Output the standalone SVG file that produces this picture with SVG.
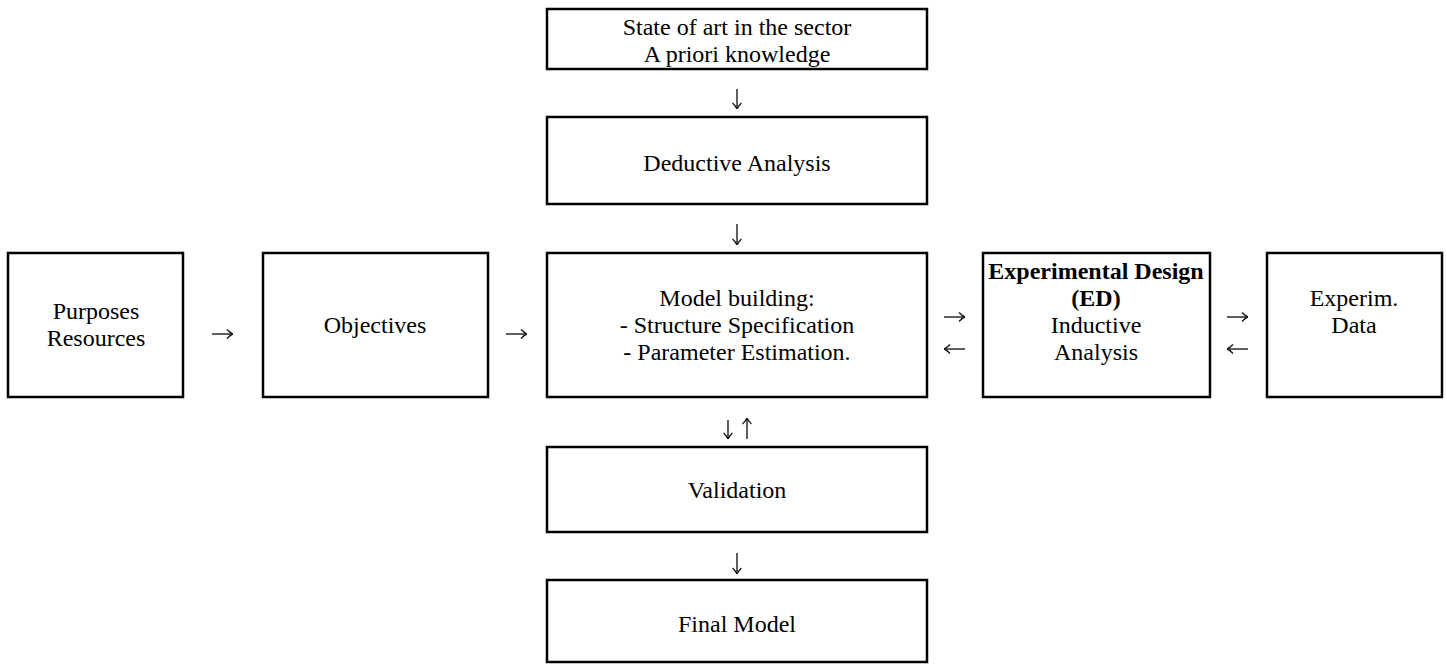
<svg xmlns="http://www.w3.org/2000/svg" width="1447" height="665" viewBox="0 0 1447 665">
<style>
.box{fill:#fff;stroke:#000;stroke-width:2.5}
text{font-family:"Liberation Serif","Times New Roman",serif;font-size:24px;fill:#000;text-anchor:middle}
.b{font-weight:bold}
.c{fill:none;stroke:#1a1a1a;stroke-width:1.4;marker-end:url(#ah)}
</style>
<defs>
<marker id="ah" viewBox="0 0 7 10" refX="6.6" refY="5" markerWidth="7" markerHeight="10" orient="auto" markerUnits="userSpaceOnUse">
<path d="M0.6,0.6 Q3.5,3.6 6.6,5 Q3.5,6.4 0.6,9.4" fill="none" stroke="#1a1a1a" stroke-width="1.4"/>
</marker>
</defs>
<rect width="1447" height="665" fill="#fff"/>
<g id="n-state"><rect class="box" x="547" y="9" width="380" height="60"/><text x="737" y="35">State of art in the sector</text><text x="737" y="62">A priori knowledge</text></g>
<g id="n-deductive"><rect class="box" x="547" y="117" width="380" height="87"/><text x="737" y="171">Deductive Analysis</text></g>
<g id="n-purposes"><rect class="box" x="8" y="253" width="175" height="144"/><text x="96" y="319">Purposes</text><text x="96" y="346">Resources</text></g>
<g id="n-objectives"><rect class="box" x="263" y="253" width="225" height="144"/><text x="375" y="333">Objectives</text></g>
<g id="n-model"><rect class="box" x="547" y="253" width="380" height="144"/><text x="737" y="306">Model building:</text><text x="737" y="333">- Structure Specification</text><text x="737" y="360">- Parameter Estimation.</text></g>
<g id="n-ed"><rect class="box" x="983" y="253" width="227" height="144"/><text class="b" x="1096" y="279">Experimental Design</text><text class="b" x="1096" y="306">(ED)</text><text x="1096" y="333">Inductive</text><text x="1096" y="360">Analysis</text></g>
<g id="n-data"><rect class="box" x="1267" y="253" width="175" height="144"/><text x="1354" y="306">Experim.</text><text x="1354" y="333">Data</text></g>
<g id="n-validation"><rect class="box" x="547" y="447" width="380" height="85"/><text x="737" y="498">Validation</text></g>
<g id="n-final"><rect class="box" x="547" y="580" width="380" height="82"/><text x="737" y="632">Final Model</text></g>
<g id="connectors">
<path class="c" d="M737,89 V109"/>
<path class="c" d="M737,224 V245"/>
<path class="c" d="M212,334 H233"/>
<path class="c" d="M506,334 H527"/>
<path class="c" d="M944,317 H965"/>
<path class="c" d="M965,349 H944"/>
<path class="c" d="M1227,317 H1248"/>
<path class="c" d="M1248,349 H1227"/>
<path class="c" d="M728,420 V439"/>
<path class="c" d="M747,439 V418"/>
<path class="c" d="M737,553 V574"/>
</g>
</svg>
